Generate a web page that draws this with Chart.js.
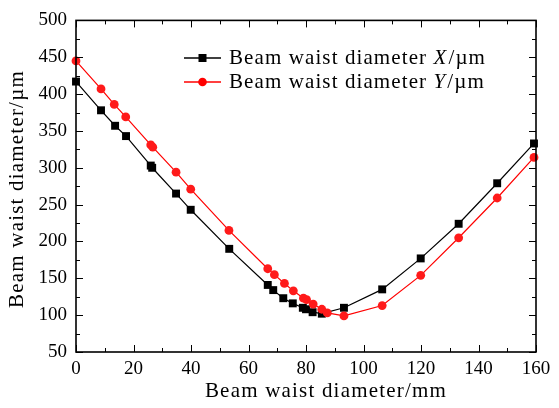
<!DOCTYPE html>
<html>
<head>
<meta charset="utf-8">
<script src="https://cdn.jsdelivr.net/npm/chart.js@4.4.1/dist/chart.umd.min.js"></script>
<style>
  html, body { margin: 0; padding: 0; background: #fff; }
</style>
</head>
<body>
<canvas id="beamChart" width="559" height="408"></canvas>
<script>
// positions along the beam (mm) and measured waist diameters (um)
const posX = [0, 8.7, 13.6, 17.4, 26.0, 26.5, 34.8, 39.9, 53.3, 66.7, 68.6, 72.1, 75.4, 78.9, 80.0, 82.3, 85.5, 93.2, 106.5, 119.9, 133.1, 146.5, 159.3];
const waistX = [417, 378, 357, 343, 303, 300, 265, 243, 190, 141, 134, 123, 116, 110, 108, 104, 102, 110, 135, 177, 224, 279, 333];

const posY = [0, 8.7, 13.3, 17.3, 26.0, 26.7, 34.8, 39.9, 53.2, 66.7, 69.0, 72.5, 75.6, 79.1, 80.2, 82.5, 85.5, 87.4, 93.2, 106.5, 119.9, 133.1, 146.5, 159.3];
const waistY = [445, 407, 386, 369, 331, 328, 294, 271, 215, 163, 155, 143, 133, 123, 121, 115, 108, 103, 99, 113, 154, 205, 259, 314];

const xTicks = [0, 20, 40, 60, 80, 100, 120, 140, 160];
const yTicks = [50, 100, 150, 200, 250, 300, 350, 400, 450, 500];

const labelX = 'Beam waist diameter X/\u00b5m';
const labelY = 'Beam waist diameter Y/\u00b5m';
const titleX = 'Beam waist diameter/mm';
const titleY = 'Beam waist diameter/\u00b5m';

const serif = '"Liberation Serif", "Times New Roman", serif';

const toPoints = (xs, ys) => xs.map((x, i) => ({ x: x, y: ys[i] }));

// inward tick marks on all four sides plus the box
const frameTicks = {
    id: 'frameTicks',
    afterDatasetsDraw(chart) {
        const { ctx, chartArea: a, scales: { x, y } } = chart;
        ctx.save();
        ctx.strokeStyle = '#000';
        ctx.lineWidth = 1;
        ctx.beginPath();
        const xs = [];
        xTicks.forEach((v, i) => {
            xs.push([v, 7]);
            if (i < xTicks.length - 1) xs.push([(v + xTicks[i + 1]) / 2, 4]);
        });
        xs.forEach(([v, len]) => {
            const px = Math.round(x.getPixelForValue(v)) + 0.5;
            ctx.moveTo(px, a.bottom); ctx.lineTo(px, a.bottom - len);
            ctx.moveTo(px, a.top); ctx.lineTo(px, a.top + len);
        });
        const ys = [];
        yTicks.forEach((v, i) => {
            ys.push([v, 7]);
            if (i < yTicks.length - 1) ys.push([(v + yTicks[i + 1]) / 2, 4]);
        });
        ys.forEach(([v, len]) => {
            const py = Math.round(y.getPixelForValue(v)) + 0.5;
            ctx.moveTo(a.left, py); ctx.lineTo(a.left + len, py);
            ctx.moveTo(a.right, py); ctx.lineTo(a.right - len, py);
        });
        ctx.stroke();
        ctx.lineWidth = 1.6;
        ctx.strokeRect(a.left, a.top, a.right - a.left, a.bottom - a.top);
        ctx.restore();
    }
};

// axis titles, drawn by hand so the spacing can be widened a bit
const axisTitles = {
    id: 'axisTitles',
    afterDraw(chart) {
        const ctx = chart.ctx;
        ctx.save();
        ctx.fillStyle = '#000';
        ctx.font = '21px ' + serif;
        ctx.letterSpacing = '1.2px';
        ctx.textAlign = 'center';
        ctx.textBaseline = 'middle';
        ctx.fillText(titleX, 326, 391);
        ctx.translate(17, 189);
        ctx.rotate(-Math.PI / 2);
        ctx.fillText(titleY, 0, 0);
        ctx.restore();
    }
};

// legend with italic X / Y
const boxLegend = {
    id: 'boxLegend',
    afterDraw(chart) {
        const ctx = chart.ctx;
        const rows = [
            { color: '#000', style: 'rect', text: 'X', y: 58 },
            { color: '#ff0000', style: 'circle', text: 'Y', y: 82 }
        ];
        ctx.save();
        ctx.letterSpacing = '1.1px';
        rows.forEach(r => {
            ctx.strokeStyle = r.color;
            ctx.fillStyle = r.color;
            ctx.lineWidth = 1.3;
            ctx.beginPath();
            ctx.moveTo(184, r.y); ctx.lineTo(221, r.y);
            ctx.stroke();
            if (r.style === 'rect') {
                ctx.fillRect(198.5, r.y - 4, 8, 8);
            } else {
                ctx.beginPath();
                ctx.arc(202.5, r.y, 4.3, 0, Math.PI * 2);
                ctx.fill();
            }
            ctx.fillStyle = '#000';
            ctx.textBaseline = 'middle';
            let tx = 229;
            ctx.font = '21px ' + serif;
            ctx.fillText('Beam waist diameter ', tx, r.y);
            tx += ctx.measureText('Beam waist diameter ').width;
            ctx.font = 'italic 21px ' + serif;
            ctx.fillText(r.text, tx, r.y);
            tx += ctx.measureText(r.text).width + 1;
            ctx.font = '21px ' + serif;
            ctx.fillText('/\u00b5m', tx, r.y);
        });
        ctx.restore();
    }
};

const ctx = document.getElementById('beamChart').getContext('2d');
new Chart(ctx, {
    type: 'line',
    data: {
        datasets: [
            {
                label: labelY,
                data: toPoints(posY, waistY),
                borderColor: '#ff0000',
                backgroundColor: '#ff1a1a',
                borderWidth: 1.2,
                pointStyle: 'circle',
                pointRadius: 4.4,
                pointBorderWidth: 0,
                tension: 0,
                clip: false,
                order: 0
            },
            {
                label: labelX,
                data: toPoints(posX, waistX),
                borderColor: '#000',
                backgroundColor: '#000',
                borderWidth: 1.2,
                pointStyle: 'rect',
                pointRadius: 5.6,
                pointBorderWidth: 0,
                tension: 0,
                clip: false,
                order: 1
            }
        ]
    },
    options: {
        responsive: false,
        animation: false,
        devicePixelRatio: 1,
        layout: { padding: { top: 12, right: 23, left: 0, bottom: 0 } },
        scales: {
            x: {
                type: 'linear',
                min: 0,
                max: 160,
                afterBuildTicks: s => { s.ticks = xTicks.map(v => ({ value: v })); },
                afterFit: s => { s.height = 56; },
                grid: { display: false, drawTicks: false },
                border: { display: false },
                ticks: {
                    color: '#000',
                    padding: 6,
                    maxRotation: 0,
                    font: { family: serif, size: 19 }
                },
                title: { display: false, text: titleX }
            },
            y: {
                type: 'linear',
                min: 50,
                max: 500,
                afterBuildTicks: s => { s.ticks = yTicks.map(v => ({ value: v })); },
                afterFit: s => { s.width = 76; },
                grid: { display: false, drawTicks: false },
                border: { display: false },
                ticks: {
                    color: '#000',
                    padding: 9,
                    font: { family: serif, size: 19 }
                },
                title: { display: false, text: titleY }
            }
        },
        plugins: {
            legend: { display: false },
            tooltip: { enabled: false }
        }
    },
    plugins: [frameTicks, axisTitles, boxLegend]
});
</script>
</body>
</html>
